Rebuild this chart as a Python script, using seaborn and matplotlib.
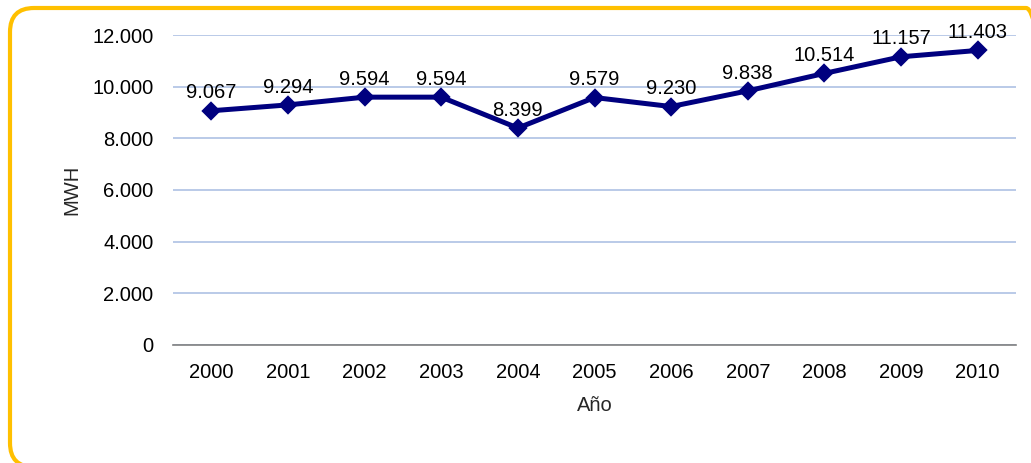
import matplotlib
matplotlib.use('Agg')
import matplotlib.pyplot as plt
import matplotlib.patches as mpatches
from matplotlib.ticker import FuncFormatter
import pandas as pd
import seaborn as sns

years = ['2000', '2001', '2002', '2003', '2004', '2005', '2006', '2007', '2008', '2009', '2010']
mwh = [9067, 9294, 9594, 9594, 8399, 9579, 9230, 9838, 10514, 11157, 11403]
y_ticks = [0, 2000, 4000, 6000, 8000, 10000, 12000]

LINE_COLOR = '#00007f'
GRID_COLOR = '#b4c6e6'
BORDER_COLOR = '#ffc000'
FS = 14.5


def miles(v, pos=None):
    # spanish style thousands separator
    return '{:,.0f}'.format(v).replace(',', '.')


sns.set_theme(style='white')
plt.rcParams['font.family'] = ['Liberation Sans', 'DejaVu Sans']

df = pd.DataFrame({'Año': years, 'MWH': mwh})

fig = plt.figure(figsize=(10.31, 4.63), dpi=100)
ax = fig.add_axes([0.1678, 0.2549, 0.8177, 0.6695])

sns.pointplot(data=df, x='Año', y='MWH', ax=ax, color=LINE_COLOR,
              markers='D', markersize=7, linewidth=3.6, errorbar=None)

ax.set_ylim(0, 12000)
ax.set_xlim(-0.5, len(years) - 0.5)
ax.set_yticks(y_ticks)
ax.yaxis.set_major_formatter(FuncFormatter(miles))
ax.grid(axis='y', color=GRID_COLOR, linewidth=1.3)
ax.set_axisbelow(True)
for side in ['left', 'right', 'top']:
    ax.spines[side].set_visible(False)
ax.spines['bottom'].set_color('#808080')
ax.spines['bottom'].set_linewidth(1.2)
ax.tick_params(axis='both', length=0, labelsize=FS, colors='black')
ax.tick_params(axis='y', pad=14)
ax.tick_params(axis='x', pad=13)

ax.set_xlabel('Año', fontsize=FS, labelpad=10)
ax.set_ylabel('MWH', fontsize=FS, labelpad=8)

for i, v in enumerate(mwh):
    ax.annotate(miles(v), (i, v), xytext=(0, 6), textcoords='offset points',
                ha='center', va='bottom', fontsize=FS, color='black')

# rounded yellow frame around the chart (pixel coordinates)
frame = mpatches.FancyBboxPatch((10, -4), 1040, 459,
                                boxstyle='round,pad=0,rounding_size=24',
                                fill=False, edgecolor=BORDER_COLOR, linewidth=3,
                                transform=None)
fig.add_artist(frame)

fig.savefig('out.png', dpi=100, facecolor='white')
